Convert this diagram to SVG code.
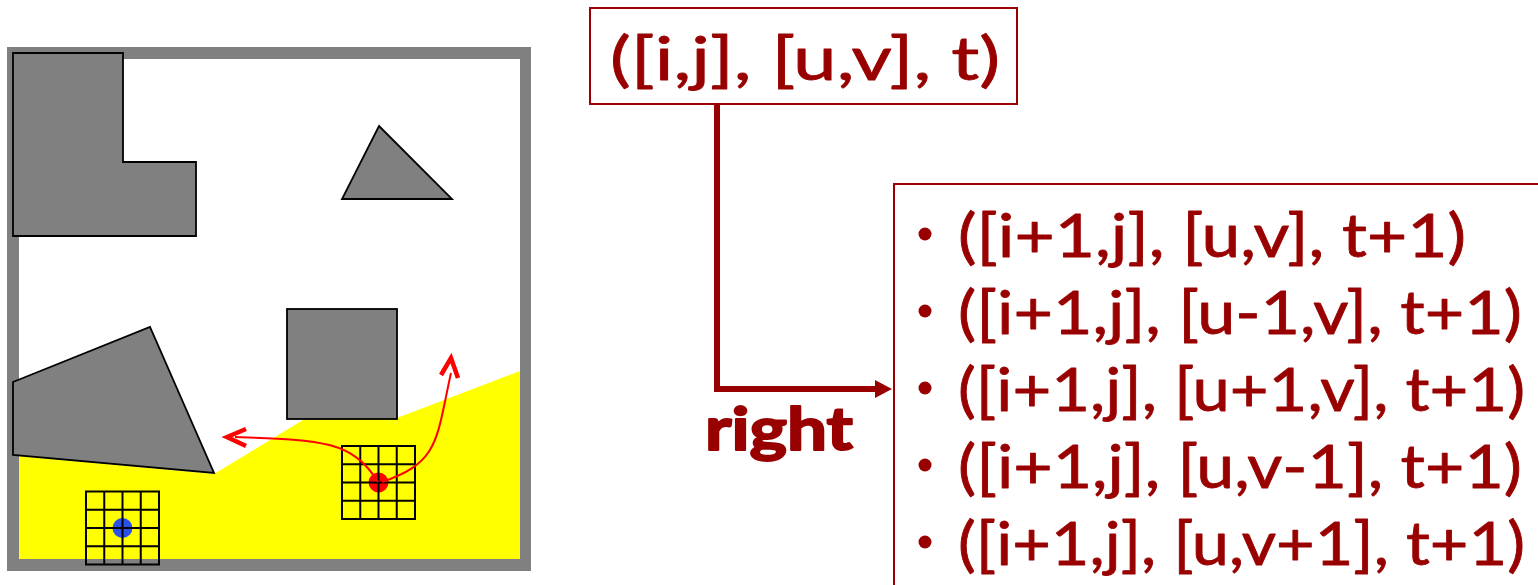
<svg xmlns="http://www.w3.org/2000/svg" width="1538" height="585" viewBox="0 0 1538 585">
<style>
.ob{fill:#808080;stroke:#000;stroke-width:1.8;stroke-linejoin:miter}
.g{fill:none;stroke:#000;stroke-width:2}
.t{font-family:"Lato","Open Sans","DejaVu Sans",sans-serif;fill:#990000;stroke:#990000;stroke-width:.8;stroke-linejoin:round;font-size:60px}
.box{fill:#fff;stroke:#990000;stroke-width:2}
.c{fill:none;stroke:#f00;stroke-width:2}
.ah{fill:none;stroke:#f00;stroke-width:4.500}
.b{fill:#990000}
</style>
<defs>
<g id="grid"><path class="g" d="M0 0H73V73H0ZM0 18.250H73M0 36.500H73M0 54.750H73M18.250 0V73M36.500 0V73M54.750 0V73"/></g>
</defs>
<g id="scene">
<rect x="7" y="47" width="524" height="524" fill="#808080"/>
<rect x="19" y="59" width="501" height="500" fill="#fff"/>
<polygon points="19,456 214,474 303,420 397,418 520,371 520,559 19,559" fill="#ff0"/>
</g>
<g id="obstacle-l"><polygon class="ob" points="13,53 123,53 123,162 196,162 196,236 13,236"/></g>
<g id="obstacle-triangle"><polygon class="ob" points="379,126 452,199 342,199"/></g>
<g id="obstacle-square"><rect class="ob" x="287" y="309" width="110" height="110"/></g>
<g id="obstacle-quad"><polygon class="ob" points="13,382 150,327 214,473 13,455"/></g>
<g id="robot-blue"><circle cx="122.500" cy="528" r="10" fill="#2a52e8"/><use href="#grid" x="86" y="491.500"/></g>
<g id="robot-red"><circle cx="378.500" cy="482.500" r="10" fill="#f00"/><use href="#grid" x="342" y="446"/></g>
<g id="connectors">
<path class="c" d="M378 482C352 440 320 440 235 437"/>
<path class="ah" d="M246 429L227 437L246 446"/>
<path class="c" d="M382 482C440 462 436 440 451 373"/>
<path class="ah" d="M441 375L451 358L458 378"/>
<path d="M717 102V389H880" fill="none" stroke="#990000" stroke-width="6"/>
<polygon class="b" points="875,380 892,389 875,398"/>
</g>
<g id="state"><rect class="box" x="590" y="8" width="427" height="96"/>
<text class="t" x="610" y="80" textLength="390" lengthAdjust="spacingAndGlyphs">([i,j], [u,v], t)</text></g>
<g id="action"><text class="t" x="705" y="450" textLength="148" lengthAdjust="spacingAndGlyphs" font-weight="700" style="stroke-width:2">right</text></g>
<g id="successors"><rect class="box" x="894" y="184" width="660" height="420"/>
<circle class="b" cx="925" cy="234" r="6.500"/><circle class="b" cx="925" cy="311" r="6.500"/><circle class="b" cx="925" cy="388" r="6.500"/><circle class="b" cx="925" cy="465" r="6.500"/><circle class="b" cx="925" cy="542" r="6.500"/>
<text class="t" x="958" y="257" textLength="508" lengthAdjust="spacingAndGlyphs">([i+1,j], [u,v], t+1)</text>
<text class="t" x="958" y="334" textLength="564" lengthAdjust="spacingAndGlyphs">([i+1,j], [u-1,v], t+1)</text>
<text class="t" x="958" y="411" textLength="567" lengthAdjust="spacingAndGlyphs">([i+1,j], [u+1,v], t+1)</text>
<text class="t" x="958" y="488" textLength="564" lengthAdjust="spacingAndGlyphs">([i+1,j], [u,v-1], t+1)</text>
<text class="t" x="958" y="565" textLength="567" lengthAdjust="spacingAndGlyphs">([i+1,j], [u,v+1], t+1)</text>
</g>
</svg>
